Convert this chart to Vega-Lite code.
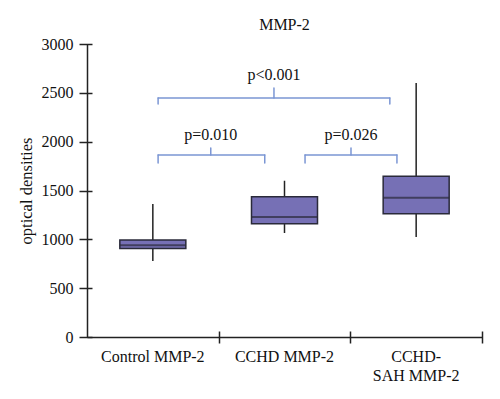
{
  "$schema": "https://vega.github.io/schema/vega-lite/v6.json",
  "width": 395,
  "height": 293,
  "autosize": {"type": "none"},
  "padding": {"left": 87, "top": 44, "right": 18, "bottom": 62},
  "background": "white",
  "config": {
    "view": {"stroke": null},
    "font": "Liberation Serif",
    "axis": {"grid": false, "labelFont": "Liberation Serif", "titleFont": "Liberation Serif", "labelColor": "#111", "titleColor": "#111", "domainColor": "#222", "tickColor": "#222", "domainWidth": 1.5, "tickWidth": 1.5}
  },
  "title": {"text": "MMP-2", "font": "Liberation Serif", "fontSize": 16, "fontWeight": "normal", "color": "#111", "anchor": "middle", "offset": 3},
  "layer": [
    {
      "data": {"values": [
        {"group": "Control MMP-2", "min": 778, "q1": 905, "median": 940, "q3": 993, "max": 1362},
        {"group": "CCHD MMP-2", "min": 1065, "q1": 1160, "median": 1229, "q3": 1435, "max": 1600},
        {"group": "CCHD-SAH MMP-2", "min": 1024, "q1": 1262, "median": 1425, "q3": 1645, "max": 2601}
      ]},
      "encoding": {
        "x": {"field": "group", "type": "nominal", "sort": null,
          "scale": {"paddingInner": 0, "paddingOuter": 0},
          "axis": {"title": null, "ticks": false, "labelAngle": 0, "labelFontSize": 16, "labelPadding": 11, "labelLineHeight": 19,
            "labelExpr": "datum.value == 'CCHD-SAH MMP-2' ? ['CCHD-', 'SAH MMP-2'] : datum.label"}}
      },
      "layer": [
        {"mark": {"type": "rule", "color": "#222", "strokeWidth": 1.5},
         "encoding": {"y": {"field": "min", "type": "quantitative", "scale": {"domain": [0, 3000], "nice": false},
            "axis": {"title": "optical densities", "titleFontSize": 16.5, "titleFontWeight": "normal", "titlePadding": 7, "ticks": false, "labelPadding": 14, "labelFontSize": 16, "format": "d", "values": [0, 500, 1000, 1500, 2000, 2500, 3000]}},
           "y2": {"field": "max"}}},
        {"mark": {"type": "bar", "size": 66, "fill": "#7670b5", "stroke": "#2a2a3a", "strokeWidth": 1.5},
         "encoding": {"y": {"field": "q1", "type": "quantitative"}, "y2": {"field": "q3"}}},
        {"mark": {"type": "tick", "size": 66, "thickness": 2, "color": "#2a2a3a"},
         "encoding": {"y": {"field": "median", "type": "quantitative"}}}
      ]
    },
    {
      "layer": [
        {
          "data": {"values": [
            {"x": 0.54, "x2": 2.30, "y": 2447, "y2": 2447},
            {"x": 0.54, "x2": 0.54, "y": 2447, "y2": 2386},
            {"x": 2.30, "x2": 2.30, "y": 2447, "y2": 2386},
            {"x": 1.42, "x2": 1.42, "y": 2447, "y2": 2550},
            {"x": 0.54, "x2": 1.35, "y": 1863, "y2": 1863},
            {"x": 0.54, "x2": 0.54, "y": 1863, "y2": 1782},
            {"x": 1.35, "x2": 1.35, "y": 1863, "y2": 1782},
            {"x": 0.94, "x2": 0.94, "y": 1863, "y2": 1935},
            {"x": 1.656, "x2": 2.354, "y": 1863, "y2": 1863},
            {"x": 1.656, "x2": 1.656, "y": 1863, "y2": 1782},
            {"x": 2.354, "x2": 2.354, "y": 1863, "y2": 1782},
            {"x": 2.005, "x2": 2.005, "y": 1863, "y2": 1935}
          ]},
          "mark": {"type": "rule", "color": "#7b96d4", "strokeWidth": 1.5, "strokeCap": "round"},
          "encoding": {
            "x": {"field": "x", "type": "quantitative", "scale": {"domain": [0, 3], "nice": false, "zero": false},
              "axis": {"orient": "bottom", "title": null, "values": [1, 2, 3], "labels": false, "domain": false, "tickSize": 12, "offset": -6}},
            "x2": {"field": "x2"},
            "y": {"field": "y", "type": "quantitative",
              "axis": {"orient": "left", "title": null, "labels": false, "domain": false, "tickSize": 13, "offset": -5, "values": [0, 500, 1000, 1500, 2000, 2500, 3000]}},
            "y2": {"field": "y2"}
          }
        },
        {
          "data": {"values": [
            {"x": 1.42, "y": 2631, "label": "p<0.001"},
            {"x": 0.94, "y": 2017, "label": "p=0.010"},
            {"x": 2.005, "y": 2017, "label": "p=0.026"}
          ]},
          "mark": {"type": "text", "font": "Liberation Serif", "fontSize": 16, "color": "#111", "baseline": "alphabetic", "align": "center"},
          "encoding": {
            "x": {"field": "x", "type": "quantitative"},
            "y": {"field": "y", "type": "quantitative"},
            "text": {"field": "label"}
          }
        }
      ]
    }
  ],
  "resolve": {"scale": {"x": "independent"}, "axis": {"x": "independent", "y": "independent"}}
}
